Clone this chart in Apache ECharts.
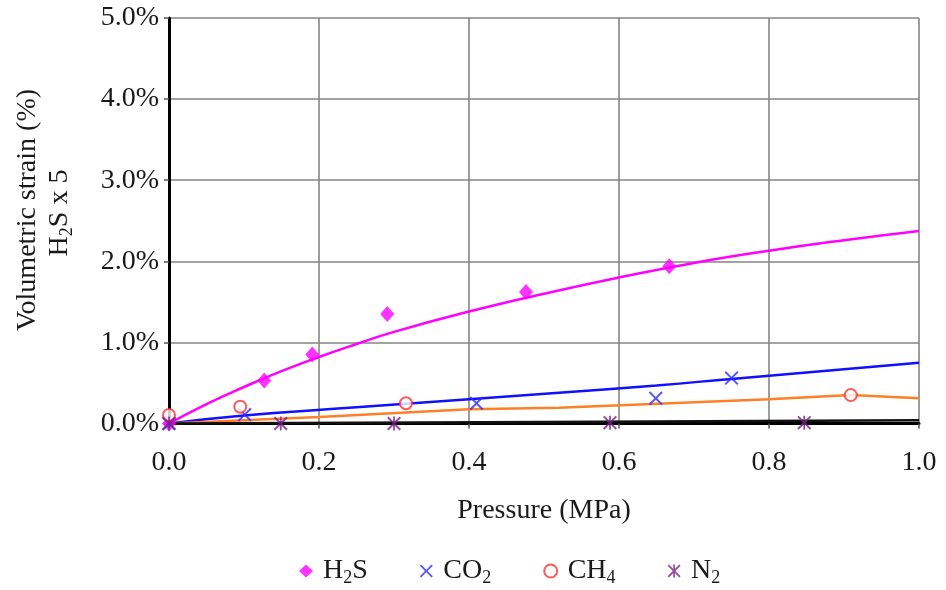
<!DOCTYPE html>
<html>
<head>
<meta charset="utf-8">
<script src="https://cdn.jsdelivr.net/npm/echarts@6/dist/echarts.min.js"></script>
<style>
html,body{margin:0;padding:0;background:#fff;}
#chart{width:946px;height:590px;}
</style>
</head>
<body>
<div id="chart"></div>
<script>
// ---- data (pressure in MPa, volumetric strain in %) ----
var xTicks = [0.0, 0.2, 0.4, 0.6, 0.8, 1.0];
var yTicks = [0, 1, 2, 3, 4, 5];

var h2sPts = [[0, 0], [0.127, 0.53], [0.191, 0.85], [0.291, 1.35], [0.476, 1.62], [0.667, 1.94]];
var co2Pts = [[0, 0], [0.101, 0.11], [0.41, 0.25], [0.649, 0.31], [0.75, 0.56]];
var ch4Pts = [[0, 0.105], [0.095, 0.207], [0.316, 0.25], [0.909, 0.35]];
var n2Pts  = [[0, 0], [0.149, 0], [0.3, 0], [0.588, 0.01], [0.847, 0.01]];

var h2sFit = [[0, 0], [0.05, 0.24], [0.1, 0.45], [0.15, 0.645], [0.2, 0.82], [0.25, 0.98], [0.3, 1.13],
              [0.4, 1.38], [0.5, 1.6], [0.6, 1.8], [0.7, 1.98], [0.8, 2.13], [0.9, 2.26], [1.0, 2.375]];
var co2Fit = [[0, 0], [0.1, 0.1], [0.25, 0.2], [0.4, 0.3], [0.52, 0.38], [0.65, 0.47], [0.75, 0.55], [1.0, 0.75]];
var ch4Fit = [[0, 0], [0.2, 0.08], [0.4, 0.175], [0.52, 0.195], [0.8, 0.3], [0.909, 0.35], [1.0, 0.31]];
var n2Fit  = [[0, 0], [0.5, 0.02], [1.0, 0.04]];

var seriesNames = ['H2S', 'CO2', 'CH4', 'N2'];
var seriesLabels = {'H2S': 'H{s|2}S', 'CO2': 'CO{s|2}', 'CH4': 'CH{s|4}', 'N2': 'N{s|2}'};

// ---- styling ----
var FONT = "'Liberation Serif', 'Times New Roman', serif";
var TXT = '#1a1a1a';
var subRich = {s: {fontSize: 18, fontFamily: FONT, color: TXT, padding: [14, 0, 0, 0]}};

var xSymbol = 'path://M0,1L1,0L5,4L9,0L10,1L6,5L10,9L9,10L5,6L1,10L0,9L4,5Z';
var starSymbol = 'path://M0,1L1,0L5,4L9,0L10,1L6,5L10,9L9,10L5,6L1,10L0,9L4,5Z M4.35,0L5.65,0L5.65,10L4.35,10Z';

var chart = echarts.init(document.getElementById('chart'), null, {renderer: 'canvas'});

var option = {
  backgroundColor: '#fff',
  animation: false,
  grid: {left: 169, right: 27, top: 18, bottom: 166.5, containLabel: false},
  xAxis: {
    type: 'value', min: xTicks[0], max: xTicks[xTicks.length - 1], interval: 0.2,
    axisLine: {show: true, onZero: false, lineStyle: {color: '#000', width: 3}},
    axisTick: {show: true, length: 5, lineStyle: {color: '#555', width: 1.5}},
    splitLine: {show: true, lineStyle: {color: '#858585', width: 1.6}},
    axisLabel: {fontFamily: FONT, fontSize: 28, color: TXT, margin: 25,
      formatter: function (v) { return v.toFixed(1); }},
    name: 'Pressure (MPa)', nameLocation: 'middle', nameGap: 73,
    nameTextStyle: {fontFamily: FONT, fontSize: 28, color: TXT}
  },
  yAxis: {
    type: 'value', min: yTicks[0], max: yTicks[yTicks.length - 1], interval: 1,
    axisLine: {show: true, onZero: false, lineStyle: {color: '#000', width: 3}},
    axisTick: {show: true, length: 5, lineStyle: {color: '#555', width: 1.5}},
    splitLine: {show: true, lineStyle: {color: '#858585', width: 1.6}},
    axisLabel: {fontFamily: FONT, fontSize: 28, color: TXT, margin: 10, padding: [6, 0, 0, 0],
      formatter: function (v) { return v.toFixed(1) + '%'; }}
  },
  legend: {
    data: seriesNames,
    left: 294, top: 552,
    itemWidth: 14, itemHeight: 13, itemGap: 52,
    formatter: function (n) { return seriesLabels[n]; },
    textStyle: {fontFamily: FONT, fontSize: 28, color: TXT, padding: [0, 0, 0, 5], rich: subRich}
  },
  graphic: [
    {type: 'text', x: 28, y: 210, rotation: Math.PI / 2,
     style: {text: 'Volumetric strain (%)', font: '28px ' + FONT, fill: TXT, align: 'center', verticalAlign: 'middle'}},
    {type: 'text', x: 60, y: 213, rotation: Math.PI / 2,
     style: {text: 'H{s|2}S x 5', fontFamily: FONT, fontSize: 28, fill: TXT, align: 'center', verticalAlign: 'middle', rich: subRich}}
  ],
  series: [
    {name: 'H2S fit', type: 'line', data: h2sFit, smooth: true, showSymbol: false, z: 3,
     lineStyle: {color: '#ff00ff', width: 2.5}},
    {name: 'CO2 fit', type: 'line', data: co2Fit, smooth: true, showSymbol: false, z: 3,
     lineStyle: {color: '#1010ff', width: 2.5}},
    {name: 'CH4 fit', type: 'line', data: ch4Fit, smooth: false, showSymbol: false, z: 3,
     lineStyle: {color: '#ff7f27', width: 2.5}},
    {name: 'N2 fit', type: 'line', data: n2Fit, smooth: false, showSymbol: false, z: 3,
     lineStyle: {color: '#111', width: 2.5}},
    {name: 'H2S', type: 'scatter', data: h2sPts, symbol: 'diamond', symbolSize: [14, 16], z: 5,
     itemStyle: {color: '#ff00ff'}},
    {name: 'CO2', type: 'scatter', data: co2Pts, symbol: xSymbol, symbolSize: 14, z: 5,
     itemStyle: {color: '#2a2aff'}},
    {name: 'CH4', type: 'scatter', data: ch4Pts, symbol: 'emptyCircle', symbolSize: 12, z: 5,
     itemStyle: {color: '#ff3030', borderColor: '#ff3030', borderWidth: 2}},
    {name: 'N2', type: 'scatter', data: n2Pts, symbol: starSymbol, symbolSize: 14, z: 5,
     itemStyle: {color: '#7b2088'}}
  ]
};
chart.setOption(option);
</script>
</body>
</html>
